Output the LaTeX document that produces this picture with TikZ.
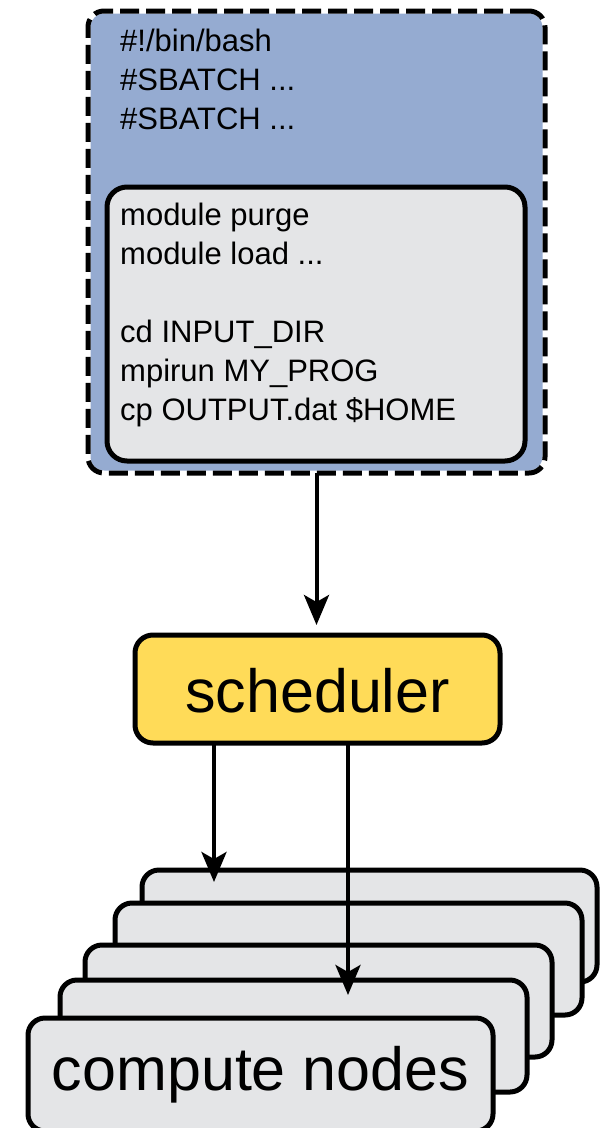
\documentclass[tikz,border=0pt]{standalone}
\usepackage{fontspec}
\setmainfont{Liberation Sans}
\usetikzlibrary{arrows.meta}
\definecolor{blueF}{RGB}{149,171,209}
\definecolor{greyF}{RGB}{228,229,231}
\definecolor{yellowF}{RGB}{255,219,88}
\begin{document}
\begin{tikzpicture}[x=1pt,y=-1pt,
  box/.style={rectangle, draw=black, line width=5pt, inner sep=0pt, outer sep=0pt},
  scriptbox/.style={box, fill=blueF, draw=white, rounded corners=16pt,
     postaction={draw=black, line width=5pt, dash pattern=on 19pt off 7pt}},
  codebox/.style={box, fill=greyF, rounded corners=20pt},
  schedbox/.style={box, fill=yellowF, rounded corners=18pt,
     font=\fontsize{61pt}{61pt}\selectfont, text height=46pt, text depth=0pt},
  nodebox/.style={box, fill=greyF, rounded corners=17pt},
  codeline/.style={anchor=base west, inner sep=0pt, font=\fontsize{31pt}{39pt}\selectfont},
  arr/.style={line width=4pt, -{Stealth[length=30pt,width=25pt,inset=7pt]}}
]
\useasboundingbox (0,0) rectangle (600,1128);

% job script
\node[scriptbox, minimum width=457pt, minimum height=462pt] (script) at (316.5,242) {};
\node[codebox, minimum width=418pt, minimum height=274pt] (code) at (316,324) {};

\node[codeline] (h1) at (120,51) {\#!/bin/bash};
\node[codeline] (h2) at (120,90) {\#SBATCH ...};
\node[codeline] (h3) at (120,129) {\#SBATCH ...};

\node[codeline] (c1) at (120,225) {module purge};
\node[codeline] (c2) at (120,264) {module load ...};
\node[codeline] (c3) at (120,342) {cd INPUT\_DIR};
\node[codeline] (c4) at (120,381) {mpirun MY\_PROG};
\node[codeline] (c5) at (120,420) {cp OUTPUT.dat \$HOME};

% scheduler
\node[schedbox, minimum width=365pt, minimum height=108pt] (sched) at (317.5,689) {scheduler};

% compute nodes (back to front)
\node[nodebox, minimum width=455pt, minimum height=112pt] (n1) at (369.5,926) {};
\node[nodebox, minimum width=467pt, minimum height=112pt] (n2) at (348.5,959) {};
\node[nodebox, minimum width=467pt, minimum height=112pt] (n3) at (318.5,1001) {};
\node[nodebox, minimum width=467pt, minimum height=112pt] (n4) at (293.5,1036) {};
\node[nodebox, minimum width=465pt, minimum height=113pt,
      font=\fontsize{61pt}{61pt}\selectfont, text height=44pt, text depth=13pt]
      (n5) at (260.5,1074.5) {compute nodes};

% connectors
\draw[arr, shorten >=10pt] (script.south) -- (script.south |- sched.north);
\coordinate (t1) at (214,882);
\coordinate (t2) at (348,995);
\draw[arr] (t1 |- sched.south) -- (t1);
\draw[arr] (t2 |- sched.south) -- (t2);
\end{tikzpicture}
\end{document}
